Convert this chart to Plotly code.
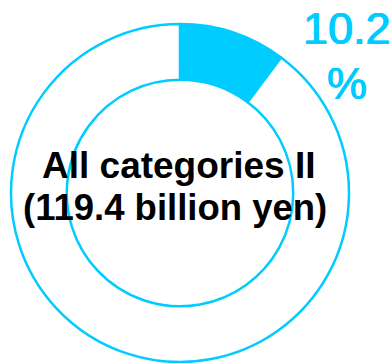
import plotly.graph_objects as go

# Share of the highlighted segment and the remainder (percent)
segment_labels = ["All categories II", "Other"]
segment_values = [10.2, 89.8]
segment_colors = ["#00CCFF", "#FFFFFF"]

center_title = "All categories II"
center_amount = "(119.4 billion yen)"

W, H = 392, 363
M_L, M_R, M_T, M_B = 11, 43, 24, 1
PW, PH = W - M_L - M_R, H - M_T - M_B


def px_x(px):
    return (px - M_L) / PW


def px_y(py):
    return 1 - (py - M_T) / PH


CYAN = "#00CCFF"
FONT = "Liberation Sans, Arial"
# slightly heavier than regular weight for the percentage label
CYAN_SHADOW = f"0.6px 0 0 {CYAN}, -0.6px 0 0 {CYAN}, 0 0.4px 0 {CYAN}"

fig = go.Figure(
    go.Pie(
        labels=segment_labels,
        values=segment_values,
        hole=0.67,
        sort=False,
        direction="clockwise",
        rotation=0,
        marker=dict(colors=segment_colors, line=dict(color=CYAN, width=2.5)),
        textinfo="none",
        hoverinfo="none",
        showlegend=False,
    )
)

share_text = f"{segment_values[0]:.1f}"

annotations = [
    dict(text=share_text, x=px_x(346.5), y=px_y(29),
         font=dict(family=FONT, size=45, color=CYAN, shadow=CYAN_SHADOW)),
    dict(text="%", x=px_x(347), y=px_y(83),
         font=dict(family=FONT, size=45, color=CYAN, shadow=CYAN_SHADOW)),
    dict(text=f"<b>{center_title}</b>", x=px_x(179), y=px_y(166),
         font=dict(family=FONT, size=37, color="#000000")),
    dict(text=f"<b>{center_amount}</b>", x=px_x(175), y=px_y(207),
         font=dict(family=FONT, size=36.5, color="#000000")),
]
for a in annotations:
    a.update(xref="paper", yref="paper", xanchor="center", yanchor="middle",
             showarrow=False)

fig.update_layout(
    width=W,
    height=H,
    margin=dict(l=M_L, r=M_R, t=M_T, b=M_B, pad=0),
    paper_bgcolor="white",
    plot_bgcolor="white",
    annotations=annotations,
)

fig.write_html("out.html")
